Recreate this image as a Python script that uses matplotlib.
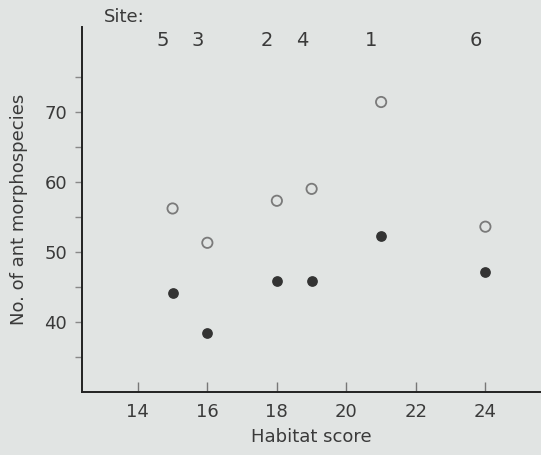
import matplotlib
matplotlib.use("Agg")
import matplotlib.pyplot as plt

# habitat score per site and species counts
sites = ["5", "3", "2", "4", "1", "6"]
habitat = [15, 16, 18, 19, 21, 24]
open_counts = [56.2, 51.3, 57.3, 59.0, 71.4, 53.6]
filled_counts = [44.1, 38.4, 45.9, 45.9, 52.2, 47.2]

bg = "#e1e4e3"
ink = "#3a3a3a"

fig = plt.figure(figsize=(5.41, 4.55), dpi=100, facecolor=bg)
ax = fig.add_axes([0.152, 0.1385, 0.848, 0.802])
ax.set_facecolor(bg)

ax.scatter(habitat, open_counts, s=55, facecolors="none", edgecolors="#7a7a7a",
           linewidths=1.3, zorder=3)
ax.scatter(habitat, filled_counts, s=45, color="#333333", zorder=3)

ax.set_xlim(12.4, 25.6)
ax.set_ylim(30, 82.1)
ax.set_xticks([14, 16, 18, 20, 22, 24])
ax.set_yticks([40, 50, 60, 70])
ax.set_yticks([35, 45, 55, 65, 75], minor=True)

for s in ["top", "right"]:
    ax.spines[s].set_visible(False)
for s in ["left", "bottom"]:
    ax.spines[s].set_color("#222222")
    ax.spines[s].set_linewidth(1.4)

ax.tick_params(axis="x", direction="in", length=7, width=1, colors="#777777",
               labelcolor=ink, labelsize=13, pad=8)
ax.tick_params(axis="y", which="both", direction="out", length=5, width=1,
               colors="#888888", labelcolor=ink, labelsize=13, pad=6)

ax.set_xlabel("Habitat score", fontsize=13, color=ink, labelpad=5)
ax.set_ylabel("No. of ant morphospecies", fontsize=13, color=ink, labelpad=12)

# site numbers along the top
for name, hx in zip(sites, habitat):
    ax.text(hx - 0.28, 80.2, name, fontsize=14, color=ink, ha="center",
            va="center", clip_on=False)
fig.text(0.192, 0.962, "Site:", fontsize=13, color=ink, ha="left", va="center")

fig.savefig("out.png", dpi=100, facecolor=bg)
